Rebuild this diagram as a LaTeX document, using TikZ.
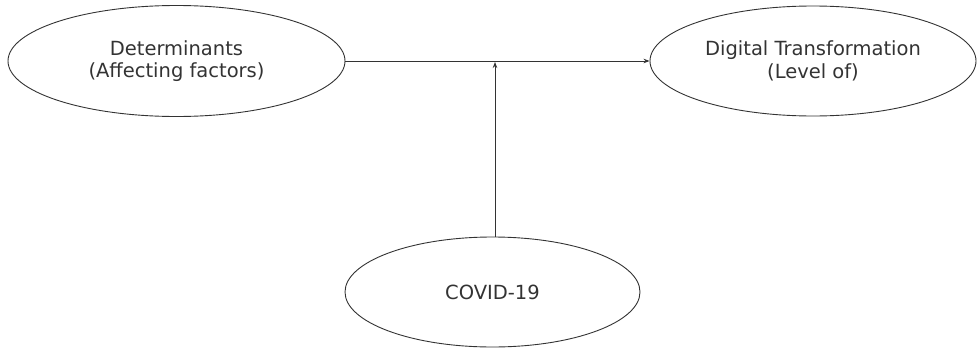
\documentclass[tikz,border=0pt]{standalone}
\usepackage{fontspec}
\setmainfont{DejaVu Sans}
\usetikzlibrary{arrows.meta,shapes.geometric}
\begin{document}
\begin{tikzpicture}[x=1pt,y=-1pt,
  oval/.style={draw=black!80, line width=0.9pt, ellipse, inner sep=0pt, align=center,
    font=\fontsize{19.5}{22.5}\selectfont, text=black!80},
  link/.style={draw=black!80, line width=0.8pt, -{Stealth[length=6pt,width=4.5pt]}}]
  \useasboundingbox (0,0) rectangle (977,348);
  \node[oval, minimum width=337pt, minimum height=111pt] (det) at (176.5,61) {Determinants\\(Affecting factors)};
  \node[oval, minimum width=326pt, minimum height=110pt] (dt) at (813,61) {Digital Transformation\\(Level of)};
  \node[oval, minimum width=295pt, minimum height=110pt] (cov) at (492.5,292) {COVID-19};
  \coordinate (join) at (495,62);
  \draw[link] (det.east) -- (dt.west);
  \draw[link] (cov.north -| join) -- (join);
\end{tikzpicture}
\end{document}
